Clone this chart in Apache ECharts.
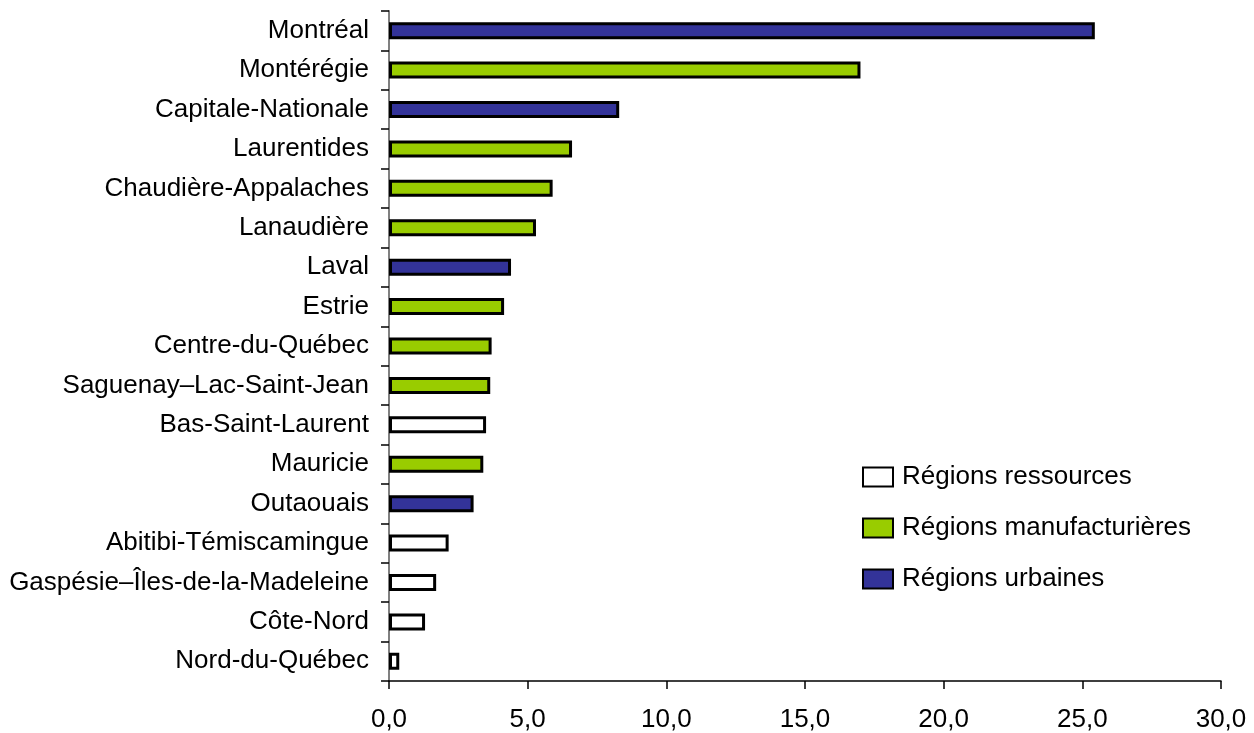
<!DOCTYPE html>
<html>
<head>
<meta charset="utf-8">
<script src="https://cdn.jsdelivr.net/npm/echarts@6/dist/echarts.min.js"></script>
<style>
  html, body { margin: 0; padding: 0; background: #ffffff; }
  #chart { width: 1254px; height: 733px; }
</style>
</head>
<body>
<div id="chart"></div>
<script>
// Regions, listed top to bottom
const regions = [
  'Montréal', 'Montérégie', 'Capitale-Nationale', 'Laurentides',
  'Chaudière-Appalaches', 'Lanaudière', 'Laval', 'Estrie',
  'Centre-du-Québec', 'Saguenay–Lac-Saint-Jean', 'Bas-Saint-Laurent',
  'Mauricie', 'Outaouais', 'Abitibi-Témiscamingue',
  'Gaspésie–Îles-de-la-Madeleine', 'Côte-Nord', 'Nord-du-Québec'
];

// Share of each region (%)
const values = [
  25.45, 17.0, 8.3, 6.6,
  5.9, 5.3, 4.4, 4.15,
  3.7, 3.65, 3.5,
  3.4, 3.05, 2.15,
  1.7, 1.3, 0.37
];

// Region type for each entry: 'r' ressources, 'm' manufacturières, 'u' urbaines
const regionType = [
  'u', 'm', 'u', 'm',
  'm', 'm', 'u', 'm',
  'm', 'm', 'r',
  'm', 'u', 'r',
  'r', 'r', 'r'
];

const groupNames = {
  r: 'Régions ressources',
  m: 'Régions manufacturières',
  u: 'Régions urbaines'
};
const groupColors = { r: '#ffffff', m: '#99cc00', u: '#333399' };

const xTicks = [0, 5, 10, 15, 20, 25, 30];

const FONT = '"Liberation Sans", Arial, sans-serif';

function seriesFor(key) {
  return {
    name: groupNames[key],
    type: 'bar',
    barWidth: 17,
    barGap: '-100%',
    data: values.map((v, i) => (regionType[i] === key ? v : '-')),
    itemStyle: {
      color: groupColors[key],
      borderColor: '#000000',
      borderWidth: 3
    },
    emphasis: { disabled: true },
    animation: false
  };
}

const chart = echarts.init(document.getElementById('chart'), null, { renderer: 'canvas' });

chart.setOption({
  backgroundColor: '#ffffff',
  animation: false,
  grid: { left: 389, right: 33, top: 11, bottom: 51, containLabel: false },
  legend: {
    orient: 'vertical',
    left: 857,
    top: 459,
    itemWidth: 30,
    itemHeight: 19,
    itemGap: 25,
    icon: 'rect',
    selectedMode: false,
    textStyle: { fontFamily: FONT, fontSize: 26, color: '#000000', padding: [0, 0, 0, 4] },
    itemStyle: { borderColor: '#000000', borderWidth: 2 },
    data: [groupNames.r, groupNames.m, groupNames.u]
  },
  xAxis: {
    type: 'value',
    min: xTicks[0],
    max: xTicks[xTicks.length - 1],
    interval: 5,
    splitLine: { show: false },
    axisLine: { show: true, lineStyle: { color: '#000000', width: 1.5 } },
    axisTick: { show: true, length: 8, lineStyle: { color: '#000000', width: 1.5 } },
    axisLabel: {
      margin: 26,
      fontFamily: FONT,
      fontSize: 26,
      color: '#000000',
      formatter: v => v.toFixed(1).replace('.', ',')
    }
  },
  yAxis: {
    type: 'category',
    inverse: true,
    data: regions,
    axisLine: { show: true, lineStyle: { color: '#808080', width: 2 } },
    axisTick: { show: true, length: 8, lineStyle: { color: '#000000', width: 1.5 } },
    axisLabel: {
      margin: 20,
      fontFamily: FONT,
      fontSize: 26,
      color: '#000000'
    }
  },
  series: [seriesFor('r'), seriesFor('m'), seriesFor('u')]
});
</script>
</body>
</html>
